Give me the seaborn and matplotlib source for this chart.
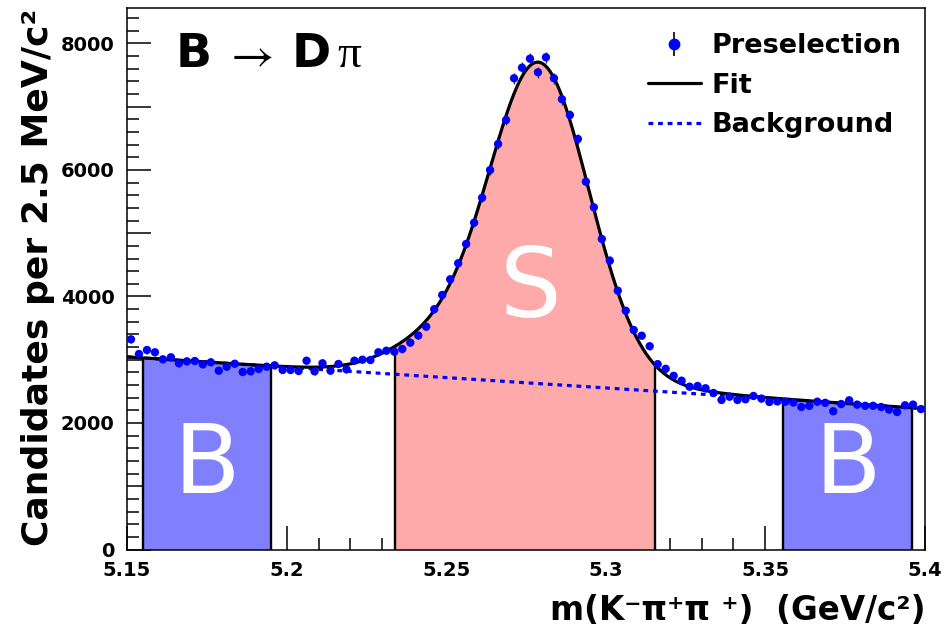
import numpy as np
import pandas as pd
import matplotlib
matplotlib.use("Agg")
import matplotlib.pyplot as plt
import seaborn as sns
from matplotlib.ticker import MultipleLocator, FuncFormatter
from matplotlib.lines import Line2D
from matplotlib.legend_handler import HandlerTuple

# ---- histogram: 100 bins of 2.5 MeV/c^2 in m(K- pi+ pi+) ----
mass_range = [5.15, 5.40]
bin_width = 0.0025
counts = [3323, 3091, 3154, 3118, 3007, 3039, 2944, 2975, 2980, 2928,
          2960, 2827, 2890, 2937, 2806, 2817, 2854, 2890, 2912, 2838,
          2838, 2822, 2985, 2817, 2944, 2827, 2933, 2849, 2985, 3001,
          2996, 3118, 3143, 3127, 3170, 3270, 3383, 3522, 3799, 4024,
          4272, 4525, 4830, 5167, 5562, 6000, 6411, 6790, 7450, 7617,
          7760, 7545, 7782, 7450, 7118, 6869, 6490, 5815, 5410, 4909,
          4566, 4092, 3775, 3470, 3380, 3214, 2931, 2857, 2746, 2669,
          2574, 2585, 2549, 2474, 2364, 2416, 2364, 2375, 2427, 2386,
          2332, 2341, 2337, 2324, 2253, 2272, 2337, 2319, 2185, 2300,
          2359, 2291, 2272, 2272, 2253, 2212, 2174, 2280, 2291, 2220]

# ---- fit result: linear background + gaussian signal components ----
bkg_mass = [5.15, 5.40]
bkg_value = [3045, 2227]
sig_mean = [5.279, 5.2445, 5.279]
sig_sigma = [0.0157, 0.0140, 0.0320]
sig_height = [4909, 405, 152]

# ---- mass windows ----
left_sideband = [5.155, 5.195]
signal_window = [5.234, 5.3155]
right_sideband = [5.3555, 5.396]

legend_labels = ["Preselection", "Fit", "Background"]
y_ticks_labelled = [0, 2000, 4000, 6000, 8000]


def background(m):
    return np.interp(m, bkg_mass, bkg_value)


def fit_model(m):
    total = background(m)
    for mu, s, h in zip(sig_mean, sig_sigma, sig_height):
        total = total + h * np.exp(-0.5 * ((m - mu) / s) ** 2)
    return total


sns.set_style("ticks")
plt.rcParams["font.family"] = ["DejaVu Sans"]
plt.rcParams.update({"text.color": "black", "axes.labelcolor": "black",
                     "xtick.color": "black", "ytick.color": "black",
                     "axes.edgecolor": "black"})

W, H = 948, 631
fig = plt.figure(figsize=(W / 100, H / 100), dpi=100)
ax_left, ax_right, ax_bottom, ax_top = 127, 925, 549.5, 8.3
ax = fig.add_axes([ax_left / W, 1 - ax_bottom / H,
                   (ax_right - ax_left) / W, (ax_bottom - ax_top) / H])

centers = mass_range[0] + bin_width * (np.arange(len(counts)) + 0.5)
data = pd.DataFrame({"mass": centers, "counts": counts})
data["err"] = np.sqrt(data["counts"])

grid = np.linspace(mass_range[0], mass_range[1], 1201)
curves = pd.DataFrame({"mass": grid, "fit": fit_model(grid),
                       "bkg": background(grid)})

# shaded windows under the fit curve
for (lo, hi), col in [(left_sideband, "#8080FF"), (signal_window, "#FFAAAA"),
                      (right_sideband, "#8080FF")]:
    xs = np.linspace(lo, hi, 300)
    ax.fill_between(xs, 0, fit_model(xs), color=col, lw=0, zorder=1)
    ax.vlines([lo, hi], 0, fit_model(np.array([lo, hi])), color="black",
              lw=1.7, zorder=2)

# region labels
for x, txt in [(np.mean(left_sideband), "B"),
               (np.mean(signal_window) + 0.0017, "S"),
               (np.mean(right_sideband), "B")]:
    yv = 4090 if txt == "S" else 1320
    ax.text(x, yv, txt, color="white", fontsize=70, ha="center",
            va="center", zorder=3)

# background and fit curves
sns.lineplot(data=curves, x="mass", y="bkg", ax=ax, color="#0000FF",
             lw=2.3, zorder=4)
ax.lines[-1].set_dashes([1.5, 1.5])
sns.lineplot(data=curves, x="mass", y="fit", ax=ax, color="black",
             lw=2.3, zorder=5)

# data points with Poisson errors
ax.errorbar(data["mass"], data["counts"], yerr=data["err"], fmt="none",
            ecolor="#333333", elinewidth=1.0, zorder=6)
sns.scatterplot(data=data, x="mass", y="counts", ax=ax, color="#0000FF",
                s=36, edgecolor="none", zorder=7, marker="o")

ax.set_xlim(*mass_range)
ax.set_ylim(0, 8556)
ax.set_xlabel("")
ax.set_ylabel("")

# ROOT-like axes: inward ticks on bottom/left only
ax.xaxis.set_major_locator(MultipleLocator(0.05))
ax.xaxis.set_minor_locator(MultipleLocator(0.01))
ax.yaxis.set_major_locator(MultipleLocator(1000))
ax.yaxis.set_minor_locator(MultipleLocator(200))
ax.xaxis.set_major_formatter(FuncFormatter(lambda v, p: f"{v:g}"))
ax.yaxis.set_major_formatter(FuncFormatter(
    lambda v, p: f"{int(round(v))}" if int(round(v)) in y_ticks_labelled else ""))
ax.tick_params(which="both", direction="in", top=False, right=False,
               width=1.1, colors="black")
ax.tick_params(which="major", length=17, labelsize=14)
ax.tick_params(which="minor", length=8.5)
ax.tick_params(axis="y", which="major", pad=9)
ax.tick_params(axis="x", which="major", pad=8)
for lab in ax.get_xticklabels() + ax.get_yticklabels():
    lab.set_fontweight("bold")
for sp in ax.spines.values():
    sp.set_visible(True)
    sp.set_linewidth(1.1)
    sp.set_color("black")

# axis titles
fig.text(38 / W, 1 - 9 / H, "Candidates per 2.5 MeV/c²", rotation=90,
         ha="center", va="top", fontsize=26, fontweight="bold")
fig.text(925 / W, 1 - 620 / H, "m(K⁻π⁺π ⁺)  (GeV/c²)", ha="right",
         va="baseline", fontsize=23.5, fontweight="bold")

# decay label
base = 1 - 67 / H
fig.text(176 / W, base, "B", fontsize=34, fontweight="bold", va="baseline")
fig.text(224 / W, base, r"$\rightarrow$", fontsize=34, math_fontfamily="stix",
         va="baseline")
fig.text(292 / W, base, "D", fontsize=34, fontweight="bold", va="baseline")
fig.text(337 / W, base, "π", fontsize=34,
         family=["Liberation Serif", "DejaVu Serif"], va="baseline")

# legend
h_data = (Line2D([], [], marker="|", color="black", ms=17, mew=1.2, ls="none"),
          Line2D([], [], marker="o", color="#0000FF", ms=7.5, ls="none"))
h_fit = Line2D([], [], color="black", lw=2.3)
h_bkg = Line2D([], [], color="#0000FF", lw=2.3, dashes=[1.5, 1.5])
fig.legend([h_data, h_fit, h_bkg], legend_labels,
           handler_map={tuple: HandlerTuple(ndivide=1)},
           loc="upper left", bbox_to_anchor=(648 / W, 1 - 33 / H),
           frameon=False, borderpad=0, borderaxespad=0,
           handlelength=1.95, handletextpad=0.4, labelspacing=0.50,
           prop={"weight": "bold", "size": 19.5})

fig.savefig("out.png", dpi=100, facecolor="white")
